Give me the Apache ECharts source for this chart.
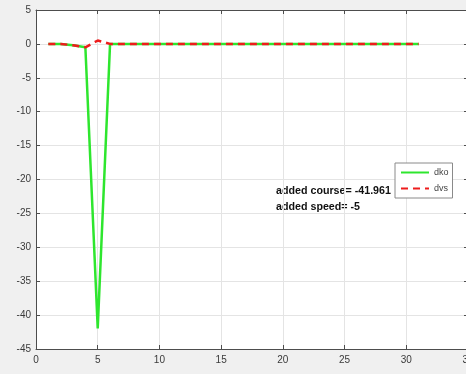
<!DOCTYPE html>
<html>
<head>
<meta charset="utf-8">
<script src="https://cdn.jsdelivr.net/npm/echarts@6/dist/echarts.min.js"></script>
<style>
  html, body { margin: 0; padding: 0; background: #f0f0f0; overflow: hidden; }
  #chart { width: 466px; height: 374px; }
</style>
</head>
<body>
<div id="chart"></div>
<script>
// step index
const steps = [1,2,3,4,5,6,7,8,9,10,11,12,13,14,15,16,17,18,19,20,21,22,23,24,25,26,27,28,29,30,31];
// course deviation (dko)
const dko = [0,0,-0.2,-0.5,-41.961,0,0,0,0,0,0,0,0,0,0,0,0,0,0,0,0,0,0,0,0,0,0,0,0,0,0];
// speed deviation (dvs)
const dvs = [0,0,-0.2,-0.5,0.5,0,0,0,0,0,0,0,0,0,0,0,0,0,0,0,0,0,0,0,0,0,0,0,0,0,0];
const addedCourse = -41.961;
const addedSpeed = -5;

const chart = echarts.init(document.getElementById('chart'));
const axisColor = '#4d4d4d';
const gridColor = '#e4e4e4';
const font = 'Liberation Sans, Arial, sans-serif';

chart.setOption({
  animation: false,
  backgroundColor: '#f0f0f0',
  grid: {
    left: 36, top: 10, width: 432, height: 339,
    outerBoundsMode: 'none', containLabel: false,
    show: true, backgroundColor: '#ffffff', borderWidth: 0
  },
  xAxis: [{
    type: 'value', min: 0, max: 35, interval: 5, position: 'bottom',
    axisLine: { show: true, onZero: false, lineStyle: { color: axisColor, width: 1 } },
    axisTick: { show: true, inside: true, length: 4, lineStyle: { color: axisColor } },
    axisLabel: { color: '#3a3a3a', fontSize: 10, fontFamily: font, margin: 6 },
    splitLine: { show: true, lineStyle: { color: gridColor, width: 1 } }
  }, {
    type: 'value', min: 0, max: 35, interval: 5, position: 'top',
    axisLine: { show: true, onZero: false, lineStyle: { color: axisColor, width: 1 } },
    axisTick: { show: true, inside: true, length: 4, lineStyle: { color: axisColor } },
    axisLabel: { show: false }, splitLine: { show: false }
  }],
  yAxis: [{
    type: 'value', min: -45, max: 5, interval: 5, position: 'left',
    axisLine: { show: true, onZero: false, lineStyle: { color: axisColor, width: 1 } },
    axisTick: { show: true, inside: true, length: 4, lineStyle: { color: axisColor } },
    axisLabel: { color: '#3a3a3a', fontSize: 10, fontFamily: font, margin: 5 },
    splitLine: { show: true, lineStyle: { color: gridColor, width: 1 } }
  }, {
    type: 'value', min: -45, max: 5, interval: 5, position: 'right',
    axisLine: { show: true, onZero: false, lineStyle: { color: axisColor, width: 1 } },
    axisTick: { show: true, inside: true, length: 4, lineStyle: { color: axisColor } },
    axisLabel: { show: false }, splitLine: { show: false }
  }],
  legend: {
    orient: 'vertical', left: 395, top: 163,
    backgroundColor: '#ffffff', borderColor: '#8a8a8a', borderWidth: 1,
    padding: [5, 4, 5, 5], itemGap: 7, itemWidth: 28, itemHeight: 8,
    itemStyle: { opacity: 0 },
    textStyle: { fontSize: 9, color: '#444', fontFamily: font },
    data: ['dko', 'dvs']
  },
  series: [{
    name: 'dko', type: 'line', showSymbol: false, symbol: 'none',
    data: steps.map((s, i) => [s, dko[i]]),
    lineStyle: { color: '#2ee62e', width: 2.5 }, itemStyle: { color: '#2ee62e' }
  }, {
    name: 'dvs', type: 'line', showSymbol: false, symbol: 'none',
    data: steps.map((s, i) => [s, dvs[i]]),
    lineStyle: { color: '#ee1c1c', width: 2.5, type: [7, 5] }, itemStyle: { color: '#ee1c1c' }
  }],
  graphic: [{
    type: 'text', left: 276, top: 186,
    style: { text: 'added course= ' + addedCourse, font: 'bold 10.7px ' + font, fill: '#111' }
  }, {
    type: 'text', left: 276, top: 202,
    style: { text: 'added speed= ' + addedSpeed, font: 'bold 10.7px ' + font, fill: '#111' }
  }]
});
</script>
</body>
</html>
